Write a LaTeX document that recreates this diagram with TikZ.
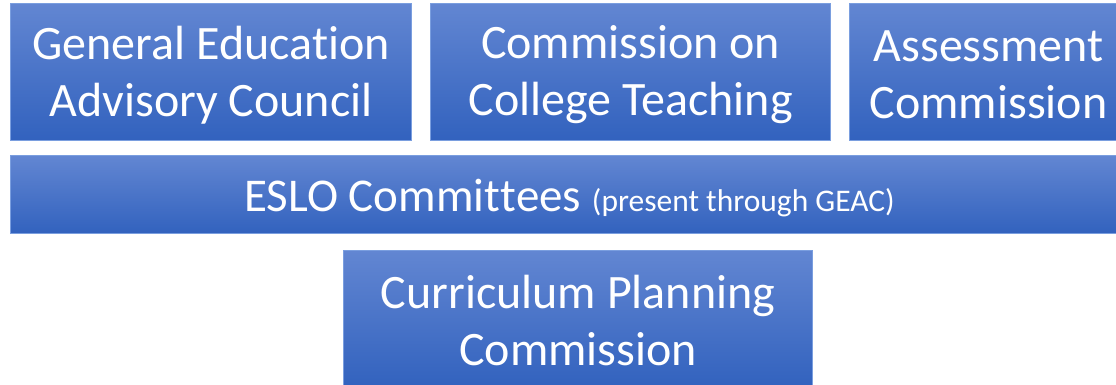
\documentclass[tikz,border=0pt]{standalone}
\usepackage{fontspec}
\setmainfont{Carlito}[RawFeature={-liga;-clig;-calt;-dlig}]
\definecolor{boxtop}{HTML}{6286D2}
\definecolor{boxbot}{HTML}{3262BE}
\definecolor{boxline}{HTML}{7A9EDF}
\newcommand{\nl}{\kern0pt{}}
\begin{document}
\begin{tikzpicture}[x=1pt,y=1pt,
  orgbox/.style={draw=boxline, line width=1.2pt, top color=boxtop, bottom color=boxbot,
    inner sep=0pt, anchor=north west},
  boxtext/.style={text=white, align=center, inner sep=0pt,
    font=\fontsize{48}{57}\selectfont}]
\useasboundingbox (0,0) rectangle (1116,385);
\clip (0,0) rectangle (1116,385);
\node[orgbox, minimum width=401pt, minimum height=137pt] (geac) at (10,382) {};
\node[boxtext] (geact) at ([yshift=-3pt]geac.center) {General Educat\nl ion\\Advisory Council};
\node[orgbox, minimum width=400pt, minimum height=137pt] (cct) at (430,382) {};
\node[boxtext] (cctt) at ([yshift=-3pt]cct.center) {Commission on\\College Teaching};
\node[orgbox, minimum width=278pt, minimum height=137pt] (ac) at (849,382) {};
\node[boxtext] (act) at ([yshift=-3pt]ac.center) {Assessment\\Commission};
\node[orgbox, minimum width=1118pt, minimum height=78pt] (eslo) at (10,230) {};
\node[boxtext, font=\fontsize{47}{57}\selectfont] (eslot) at ([yshift=-3pt]eslo.center)
  {ESLO Commit\nl t\nl ees {\fontsize{31.5}{38}\selectfont (present through GEAC)}};
\node[orgbox, minimum width=469pt, minimum height=137pt] (cpc) at (343,135) {};
\node[boxtext] (cpct) at ([yshift=-1pt]cpc.center) {Curriculum Planning\\Commission};
\end{tikzpicture}
\end{document}
